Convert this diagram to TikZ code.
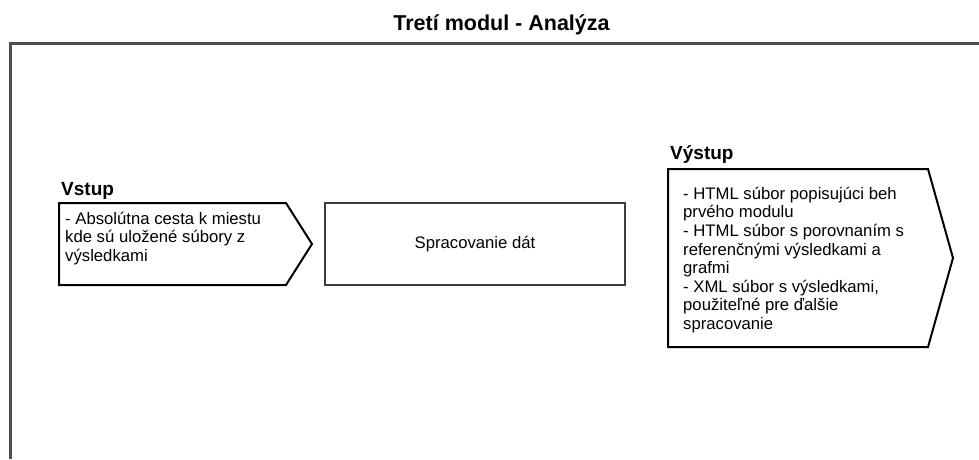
\documentclass[tikz,border=0pt]{standalone}
\usepackage{fontspec}
\setmainfont{Liberation Sans}
\definecolor{framegray}{RGB}{78,78,78}
\definecolor{boxgray}{RGB}{60,60,60}
\begin{document}
\begin{tikzpicture}[x=1pt,y=-1pt,
  frameline/.style={draw=framegray, line width=3pt},
  arrowbox/.style={draw=black, line width=2pt, line join=miter},
  procbox/.style={draw=boxgray, line width=2.2pt},
  titletext/.style={font=\bfseries\fontsize{21.5}{24}\selectfont, inner sep=0pt},
  labeltext/.style={font=\bfseries\fontsize{19}{22}\selectfont, inner sep=0pt, anchor=base west},
  bodytext/.style={font=\fontsize{16.7}{18.6}\selectfont, inner sep=0pt, anchor=base west, align=left}
]
\useasboundingbox (0,0) rectangle (979,459);

% heading
\node[titletext, anchor=base] (title) at (501.5,30) {Tretí modul - Analýza};

% module frame (open to the right and bottom)
\draw[frameline] (10,459) -- (10,43) -- (979,43);

% input block (text anchored at the baseline of its last line)
\node[labeltext] (inlabel) at (61,195) {Vstup};
\draw[arrowbox] (59,203) -- (286,203) -- (312,244) -- (286,285) -- (59,285) -- cycle;
\node[bodytext] (intext) at (65,261.2) {- Absolútna cesta k miestu\\kde sú uložené súbory z\\výsledkami};

% processing block
\draw[procbox] (325,203) rectangle (625,285);
\node[font=\fontsize{16.7}{18.6}\selectfont] (proc) at (475,244) {Spracovanie dát};

% output block
\node[labeltext] (outlabel) at (670,159) {Výstup};
\draw[arrowbox] (668,169) -- (928,169) -- (953,258) -- (928,347) -- (668,347) -- cycle;
\node[bodytext] (outtext) at (683,329.5) {- HTML súbor popisujúci beh\\prvého modulu\\- HTML súbor s porovnaním s\\referenčnými výsledkami a\\grafmi\\- XML súbor s výsledkami,\\použiteľné pre ďalšie\\spracovanie};
\end{tikzpicture}
\end{document}
